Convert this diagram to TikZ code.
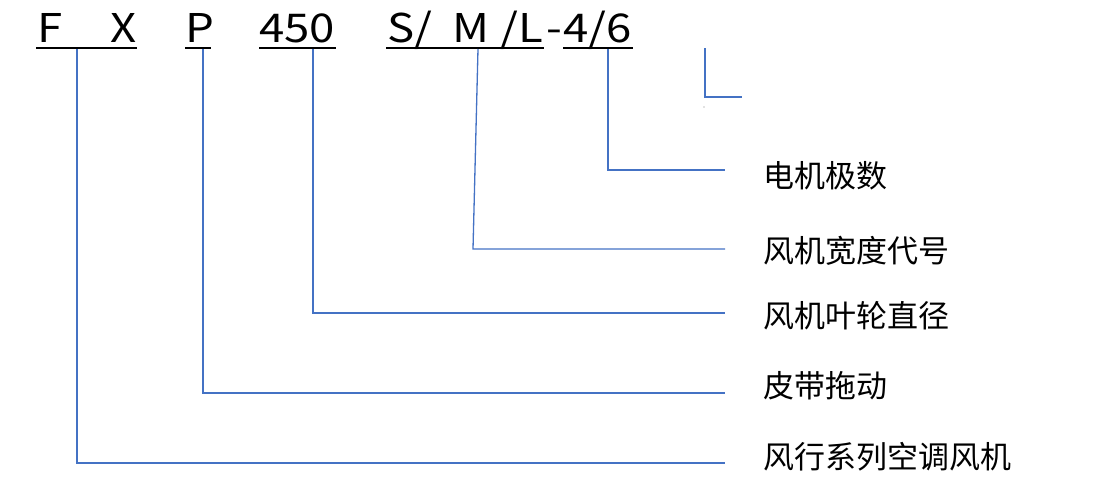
\documentclass[tikz,border=0pt]{standalone}
\usepackage{fontspec}
\setmainfont{Noto Sans CJK SC}
\newfontfamily\codefont[FakeStretch=1.15]{Noto Sans CJK SC}
\definecolor{leadblue}{RGB}{68,114,196}

\begin{document}
\begin{tikzpicture}[x=1pt, y=-1pt,
        codetxt/.style = {anchor=base west, inner sep=0pt, font=\codefont\fontsize{39.6}{40}\selectfont},
        lbl/.style = {anchor=west, inner sep=0pt, font=\fontsize{31}{32}\selectfont},
        lead/.style = {line width=1.3pt, leadblue},
        bar/.style = {line width=2.6pt}]
        \useasboundingbox (0,0) rectangle (1100,498);

        % model code
        \node[codetxt] (cF) at (37,42) {F};
        \node[codetxt] (cX) at (110,42) {X};
        \node[codetxt] (cP) at (185,42) {P};
        \node[codetxt] (c450) at (259,42) {450};
        \node[codetxt] (cS) at (387,42) {S/};
        \node[codetxt] (cM) at (452,42) {M};
        \node[codetxt] (cL) at (500,42) {/L};
        \node[codetxt] (cdash) at (546,42) {-};
        \node[codetxt] (c46) at (563,42) {4/6};

        \draw[bar] (36,48) -- (137,48);
        \draw[bar] (185,48) -- (211,48);
        \draw[bar] (259,48) -- (336,48);
        \draw[bar] (386,48) -- (544,48);
        \draw[bar] (563,48) -- (633,48);

        % meanings
        \node[lbl] (poles) at (763,176) {电机极数};
        \node[lbl] (width) at (763,251) {风机宽度代号};
        \node[lbl] (dia) at (763,316) {风机叶轮直径};
        \node[lbl] (belt) at (763,386) {皮带拖动};
        \node[lbl] (series) at (763,457) {风行系列空调风机};

        \coordinate (tapF) at (77,49);
        \coordinate (tapP) at (203,49);
        \coordinate (tap450) at (313,49);
        \coordinate (tapM) at (478,49);
        \coordinate (bendM) at (473,249);
        \coordinate (tap46) at (608,49);

        \coordinate (endF) at ([xshift=-38pt]series.west |- 0,463);
        \coordinate (endP) at ([xshift=-38pt]belt.west |- 0,393);
        \coordinate (end450) at ([xshift=-38pt]dia.west |- 0,313);
        \coordinate (endM) at ([xshift=-38pt]width.west |- 0,249);
        \coordinate (end46) at ([xshift=-38pt]poles.west |- 0,170);

        \draw[lead] (tapF) |- (endF);
        \draw[lead] (tapP) |- (endP);
        \draw[lead] (tap450) |- (end450);
        \draw[lead] (tapM) -- (bendM) -- (endM);
        \draw[lead] (tap46) |- (end46);

        \draw[lead] (705,48) |- (742,97);
        \fill[gray] (704,107) circle (0.6pt);
\end{tikzpicture}
\end{document}
